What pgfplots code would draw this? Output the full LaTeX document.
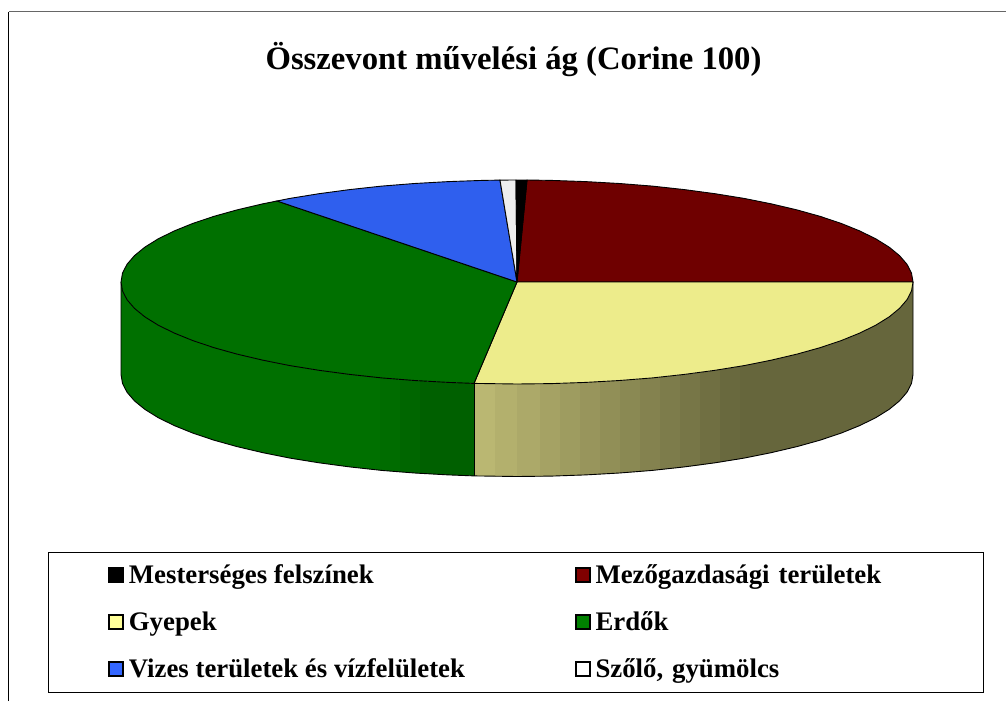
\documentclass[border=0pt]{standalone}
\usepackage{fontspec}
\setmainfont{Liberation Serif}
\usepackage{pgfplots}
\pgfplotsset{compat=1.18}

% top faces
\definecolor{topblack}{RGB}{0,0,0}
\definecolor{topred}{RGB}{111,0,0}
\definecolor{topyellow}{RGB}{237,236,139}
\definecolor{topgreen}{RGB}{0,112,0}
\definecolor{topblue}{RGB}{47,95,238}
\definecolor{topwhite}{RGB}{238,238,238}
% legend swatches
\definecolor{legred}{RGB}{128,0,0}
\definecolor{legyellow}{RGB}{255,255,153}
\definecolor{leggreen}{RGB}{0,128,0}
\definecolor{legblue}{RGB}{51,102,255}
% side shading, yellow slice
\definecolor{ys1}{RGB}{186,183,114}
\definecolor{ys2}{RGB}{179,176,109}
\definecolor{ys3}{RGB}{172,169,105}
\definecolor{ys4}{RGB}{165,162,100}
\definecolor{ys5}{RGB}{158,156,96}
\definecolor{ys6}{RGB}{152,149,92}
\definecolor{ys7}{RGB}{145,143,87}
\definecolor{ys8}{RGB}{138,137,83}
\definecolor{ys9}{RGB}{132,130,79}
\definecolor{ys10}{RGB}{125,124,75}
\definecolor{ys11}{RGB}{119,118,71}
\definecolor{ys12}{RGB}{112,111,66}
\definecolor{ys13}{RGB}{105,105,62}
\definecolor{ys14}{RGB}{102,102,60}
% side shading, green slice
\definecolor{gs1}{RGB}{0,112,0}
\definecolor{gs2}{RGB}{0,108,0}
\definecolor{gs3}{RGB}{0,102,0}
\definecolor{gs4}{RGB}{0,96,0}

\begin{document}
\begin{tikzpicture}
\begin{axis}[
scale only axis,
width=1006pt,
height=701pt,
xmin=0, xmax=1006,
ymin=0, ymax=701,
y dir=reverse,
hide axis,
side/.style={forget plot, fill=#1, draw=none},
face/.style={forget plot, fill=#1, draw=black, line width=0.9pt},
edge/.style={forget plot, draw=black, line width=0.9pt},
legend columns=2,
legend cell align=left,
legend image code/.code={\draw[#1, draw=black, line width=2pt] (0pt,-7pt) rectangle (14pt,7pt);},
legend style={
  at={(0.0477,0.2126)}, anchor=north west,
  draw=black, line width=0.8pt,
  inner xsep=60pt, inner ysep=8pt,
  row sep=17pt,
  font=\fontsize{26.8}{26.8}\selectfont\bfseries,
  nodes={inner sep=0pt, text height=23pt, text depth=7pt},
  /tikz/column 1/.style={column sep=4.5pt},
  /tikz/column 2/.style={column sep=110pt},
  /tikz/column 3/.style={column sep=4.5pt},
  /tikz/column 4/.style={nodes={text width=328pt}},
},
]
% the page is the whole axis box
\path (axis cs:0,0) (axis cs:1006,701);

% outer frame
\addplot[forget plot, draw=black, line width=0.8pt] coordinates {(8.5,701) (8.5,12)};
\addplot[forget plot, draw=black!60, line width=1pt] coordinates {(8.5,12) (1006,12)};

% green side, each strip runs 1 past its right end and the next one covers that
\addplot[side=gs1] coordinates {(121,282) (121,374.5) (122.5,383.4) (127,392.2) (134.5,400.9) (144.9,409.4) (158.1,417.6) (174.1,425.5) (192.6,433) (213.7,440.1) (237,446.6) (262.5,452.6) (289.9,458.1) (319,462.8) (349.6,466.9) (381,470.3) (381,377.8) (349.6,374.4) (319,370.3) (289.9,365.6) (262.5,360.1) (237,354.1) (213.7,347.6) (192.6,340.5) (174.1,333) (158.1,325.1) (144.9,316.9) (134.5,308.4) (127,299.7) (122.5,290.9) (121,282)};
\addplot[side=gs2] coordinates {(380,377.7) (401,379.5) (401,472) (380,470.2) (380,377.7)};
\addplot[side=gs3] coordinates {(400,379.4) (421,381) (421,473.5) (400,471.9) (400,379.4)};
\addplot[side=gs4] coordinates {(420,380.9) (448.3,382.4) (474,383.4) (474,475.9) (448.3,474.9) (420,473.4) (420,380.9)};

% yellow side
\addplot[side=ys1] coordinates {(474,383.4) (496,383.8) (496,476.3) (474,475.9) (474,383.4)};
\addplot[side=ys2] coordinates {(495,383.8) (518,384) (518,476.5) (495,476.3) (495,383.8)};
\addplot[side=ys3] coordinates {(517,384) (541,383.8) (541,476.3) (517,476.5) (517,384)};
\addplot[side=ys4] coordinates {(540,383.8) (561,383.4) (561,475.9) (540,476.3) (540,383.8)};
\addplot[side=ys5] coordinates {(560,383.4) (581,382.7) (581,475.2) (560,475.9) (560,383.4)};
\addplot[side=ys6] coordinates {(580,382.7) (601,381.7) (601,474.2) (580,475.2) (580,382.7)};
\addplot[side=ys7] coordinates {(600,381.7) (621,380.5) (621,473) (600,474.2) (600,381.7)};
\addplot[side=ys8] coordinates {(620,380.5) (641,379) (641,471.5) (620,473) (620,380.5)};
\addplot[side=ys9] coordinates {(640,379) (661,377.1) (661,469.6) (640,471.5) (640,379)};
\addplot[side=ys10] coordinates {(660,377.1) (681,375) (681,467.5) (660,469.6) (660,377.1)};
\addplot[side=ys11] coordinates {(680,375) (701,372.5) (701,465) (680,467.5) (680,375)};
\addplot[side=ys12] coordinates {(700,372.5) (721,369.6) (721,462.1) (700,465) (700,372.5)};
\addplot[side=ys13] coordinates {(720,369.6) (741,366.3) (741,458.8) (720,462.1) (720,369.6)};
\addplot[side=ys14] coordinates {(740,366.3) (744.1,365.6) (771.5,360.1) (797,354.1) (820.3,347.6) (841.4,340.5) (859.9,333) (875.9,325.1) (889.1,316.9) (899.5,308.4) (907,299.7) (911.5,290.9) (913,282) (913,374.5) (911.5,383.4) (907,392.2) (899.5,400.9) (889.1,409.4) (875.9,417.6) (859.9,425.5) (841.4,433) (820.3,440.1) (797,446.6) (771.5,452.6) (744.1,458.1) (740,458.8) (740,366.3)};

% side outlines
\addplot[edge] coordinates {(121,282) (121,374.5) (122.5,383.4) (127,392.2) (134.5,400.9) (144.9,409.4) (158.1,417.6) (174.1,425.5) (192.6,433) (213.7,440.1) (237,446.6) (262.5,452.6) (289.9,458.1) (319,462.8) (349.6,466.9) (381.6,470.4) (414.5,473) (448.3,474.9) (474,475.9) (517,476.5) (551.5,476.1) (585.7,474.9) (619.5,473) (652.4,470.4) (684.4,466.9) (715,462.8) (744.1,458.1) (771.5,452.6) (797,446.6) (820.3,440.1) (841.4,433) (859.9,425.5) (875.9,417.6) (889.1,409.4) (899.5,400.9) (907,392.2) (911.5,383.4) (913,374.5) (913,282)};
\addplot[edge] coordinates {(474,383.4) (474,475.9)};

% top faces
\addplot[face=topred] coordinates {(517,282) (527,180) (551.5,180.4) (585.7,181.6) (619.5,183.5) (652.4,186.1) (684.4,189.6) (715,193.7) (744.1,198.4) (771.5,203.9) (797,209.9) (820.3,216.4) (841.4,223.5) (859.9,231) (875.9,238.9) (889.1,247.1) (899.5,255.6) (907,264.3) (911.5,273.1) (913,282) (517,282)};
\addplot[face=topyellow] coordinates {(517,282) (913,282) (911.5,290.9) (907,299.7) (899.5,308.4) (889.1,316.9) (875.9,325.1) (859.9,333) (841.4,340.5) (820.3,347.6) (797,354.1) (771.5,360.1) (744.1,365.6) (715,370.3) (684.4,374.4) (652.4,377.9) (619.5,380.5) (585.7,382.4) (551.5,383.6) (517,384) (474,383.4) (517,282)};
\addplot[face=topgreen] coordinates {(517,282) (474,383.4) (448.3,382.4) (414.5,380.5) (381.6,377.9) (349.6,374.4) (319,370.3) (289.9,365.6) (262.5,360.1) (237,354.1) (213.7,347.6) (192.6,340.5) (174.1,333) (158.1,325.1) (144.9,316.9) (134.5,308.4) (127,299.7) (122.5,290.9) (121,282) (122.5,273.1) (127,264.3) (134.5,255.6) (144.9,247.1) (158.1,238.9) (174.1,231) (192.6,223.5) (213.7,216.4) (237,209.9) (262.5,203.9) (277,201) (517,282)};
\addplot[face=topblue] coordinates {(517,282) (277,201) (289.9,198.4) (319,193.7) (349.6,189.6) (381.6,186.1) (414.5,183.5) (448.3,181.6) (482.5,180.4) (500,180.1) (517,282)};
\addplot[face=topwhite] coordinates {(517,282) (500,180.1) (516,180) (517,282)};
\addplot[face=topblack] coordinates {(517,282) (516,180) (527,180) (517,282)};

% legend
\addlegendimage{fill=topblack}
\addlegendentry{Mesterséges felszínek}
\addlegendimage{fill=legred}
\addlegendentry{Mezőgazdasági területek}
\addlegendimage{fill=legyellow}
\addlegendentry{Gyepek}
\addlegendimage{fill=leggreen}
\addlegendentry{Erdők}
\addlegendimage{fill=legblue}
\addlegendentry{Vizes területek és vízfelületek}
\addlegendimage{fill=white}
\addlegendentry{Szőlő, gyümölcs}

\node[font=\fontsize{32.7}{32.7}\selectfont\bfseries] at (axis cs:513.5,60) {Összevont művelési ág (Corine 100)};
\end{axis}
\end{tikzpicture}
\end{document}
